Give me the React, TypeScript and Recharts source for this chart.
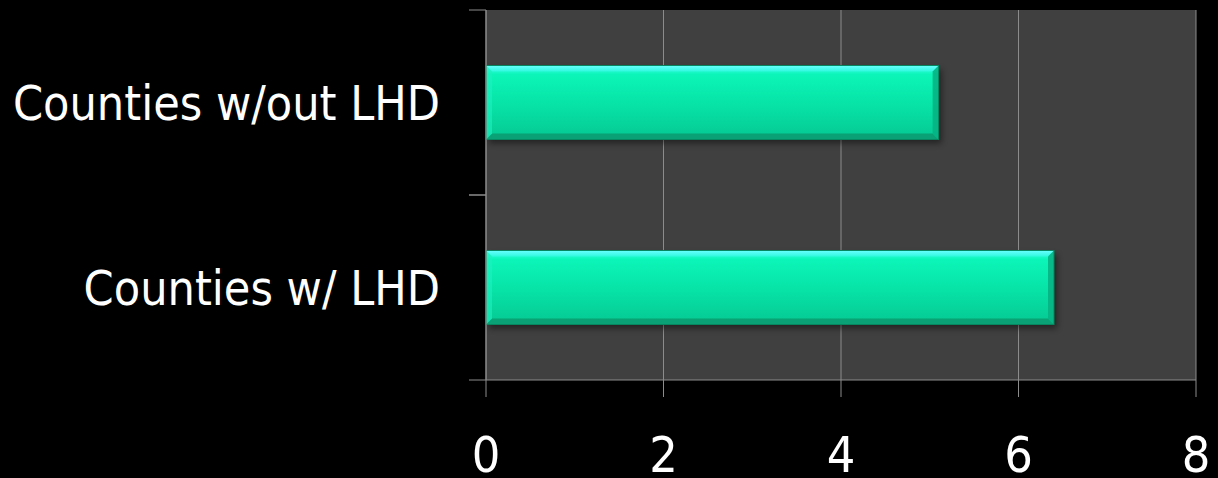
import { Bar, BarChart, CartesianGrid, XAxis, YAxis } from "recharts";

const categories = ["Counties w/out LHD", "Counties w/ LHD"];
const values = [5.1, 6.4];
const xTicks = [0, 2, 4, 6, 8];

const data = categories.map((name, i) => ({ name, value: values[i] }));

const FONT = "'DejaVu Sans Condensed', 'DejaVu Sans', sans-serif";
const AXIS = "#8c8c8c";
const CHART_W = 1218;
const CHART_H = 478;
const MARGIN = { top: 10, right: 22, bottom: 0, left: 0 };
const X_AXIS_H = 98;
const Y_AXIS_W = 486;
const TICK = 17;
const Y_TICK_GAP = 29;
// band height of one category, used to put the y tick marks on category edges
const BAND = (CHART_H - MARGIN.top - MARGIN.bottom - X_AXIS_H) / categories.length;

function CategoryTick(props: any) {
  const { x, y, payload } = props;
  const lineX1 = x + Y_TICK_GAP;
  const lineX2 = lineX1 + TICK;
  return (
    <g>
      <line x1={lineX1} x2={lineX2} y1={y - BAND / 2} y2={y - BAND / 2} stroke={AXIS} />
      <line x1={lineX1} x2={lineX2} y1={y + BAND / 2} y2={y + BAND / 2} stroke={AXIS} />
      <text x={x} y={y} dy="0.355em" textAnchor="end" fill="#ffffff" fontSize={48} fontFamily={FONT}>
        {payload.value}
      </text>
    </g>
  );
}

function BevelBar(props: any) {
  const { x, y, width, height } = props;
  if (!width || width <= 0) return null;
  const b = Math.min(6, height / 6);
  return (
    <g>
      <rect x={x + 3} y={y + 4} width={width} height={height} fill="#000" opacity={0.45} filter="url(#barShadow)" />
      <rect x={x} y={y} width={width} height={height} fill="url(#barFill)" />
      <polygon points={`${x},${y} ${x + width},${y} ${x + width - b},${y + b} ${x + b},${y + b}`} fill="url(#topEdge)" />
      <polygon
        points={`${x},${y + height} ${x + width},${y + height} ${x + width - b},${y + height - b} ${x + b},${y + height - b}`}
        fill="#0a9a70"
        opacity={0.85}
      />
      <polygon
        points={`${x + width},${y} ${x + width},${y + height} ${x + width - b},${y + height - b} ${x + width - b},${y + b}`}
        fill="#07b283"
        opacity={0.9}
      />
      <polygon points={`${x},${y} ${x},${y + height} ${x + b},${y + height - b} ${x + b},${y + b}`} fill="#1ff0c0" opacity={0.6} />
      <rect x={x} y={y} width={width} height={height} fill="none" stroke="#06875f" strokeWidth={1} />
    </g>
  );
}

export default function App() {
  return (
    <div style={{ width: CHART_W, height: CHART_H, background: "#000" }}>
      <style>{`body { margin: 0; background: #000; }`}</style>
      <BarChart
        width={CHART_W}
        height={CHART_H}
        data={data}
        layout="vertical"
        margin={MARGIN}
        barCategoryGap="30%"
      >
        <defs>
          <linearGradient id="barFill" x1="0" y1="0" x2="0" y2="1">
            <stop offset="0%" stopColor="#3ffff0" />
            <stop offset="12%" stopColor="#0cf5b8" />
            <stop offset="55%" stopColor="#07e2a6" />
            <stop offset="100%" stopColor="#05c892" />
          </linearGradient>
          <linearGradient id="topEdge" x1="0" y1="0" x2="0" y2="1">
            <stop offset="0%" stopColor="#6affff" />
            <stop offset="100%" stopColor="#2ff8dc" />
          </linearGradient>
          <filter id="barShadow" x="-5%" y="-20%" width="110%" height="140%">
            <feGaussianBlur stdDeviation="3" />
          </filter>
        </defs>
        <CartesianGrid horizontal={false} stroke={AXIS} fill="#404040" />
        <XAxis
          type="number"
          domain={[0, 8]}
          ticks={xTicks}
          interval={0}
          height={X_AXIS_H}
          tickSize={TICK}
          tickMargin={39}
          stroke={AXIS}
          tick={{ fill: "#ffffff", fontSize: 50, fontFamily: FONT }}
        />
        <YAxis
          type="category"
          dataKey="name"
          width={Y_AXIS_W}
          tickLine={false}
          tickSize={TICK}
          tickMargin={Y_TICK_GAP}
          stroke={AXIS}
          tick={<CategoryTick />}
        />
        <Bar dataKey="value" shape={<BevelBar />} isAnimationActive={false} />
      </BarChart>
    </div>
  );
}
